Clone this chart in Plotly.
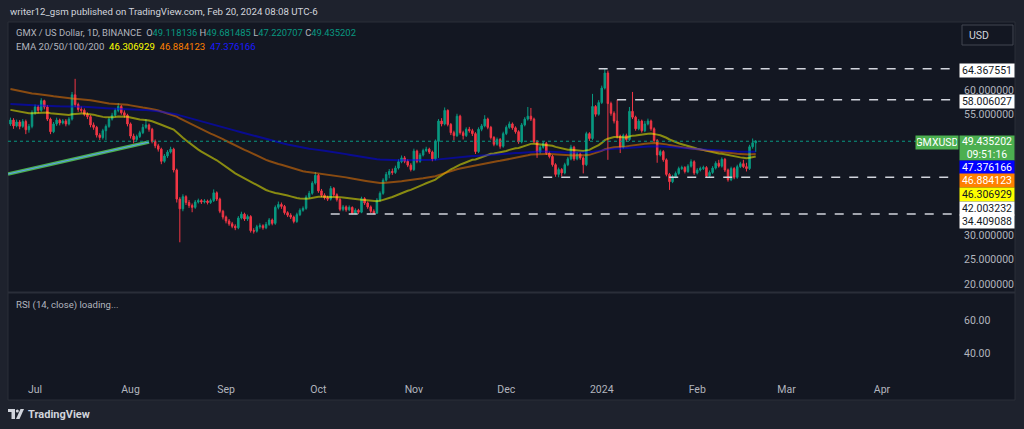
import pandas as pd
import plotly.graph_objects as go

# GMX / US Dollar, 1D, BINANCE - daily candles from 2023-06-23 to 2024-02-20
first_open = 53.0
closes = [
    53.8, 52.6, 53.4, 52.5, 53.5, 51.8, 52.5, 55.3, 56.5, 55.8,
    57.8, 56.5, 54.0, 51.4, 53.0, 53.8, 53.2, 53.6, 53.0, 54.0,
    59.0, 57.0, 56.0, 55.8, 55.0, 54.5, 52.8, 52.3, 50.7, 50.2,
    51.6, 52.5, 54.0, 54.8, 55.8, 56.6, 55.3, 54.8, 53.0, 50.5,
    49.8, 50.4, 51.2, 52.3, 52.8, 51.9, 49.4, 48.5, 47.8, 45.3,
    46.4, 47.2, 47.8, 43.5, 37.5, 35.5, 38.0, 36.8, 36.2, 35.8,
    36.9, 37.2, 36.9, 37.1, 36.8, 37.2, 38.8, 37.5, 35.0, 33.8,
    33.0, 32.4, 31.9, 31.6, 33.6, 34.4, 33.4, 33.9, 31.0, 30.9,
    31.8, 32.0, 31.6, 32.3, 33.2, 32.5, 35.8, 36.4, 36.0, 34.7,
    34.2, 33.8, 32.9, 34.3, 35.2, 35.6, 37.9, 38.7, 40.8, 42.4,
    39.2, 38.3, 37.8, 37.5, 39.7, 38.4, 37.4, 35.4, 35.9, 35.3,
    35.8, 34.5, 35.2, 34.8, 37.6, 36.7, 35.9, 35.0, 34.6, 37.3,
    38.7, 41.4, 42.6, 43.2, 43.0, 43.9, 45.2, 46.0, 45.3, 44.5,
    43.6, 47.4, 45.3, 46.6, 47.5, 47.8, 47.2, 45.8, 49.4, 53.6,
    53.0, 55.8, 52.9, 51.2, 50.6, 54.6, 51.2, 50.6, 51.9, 51.6,
    51.0, 47.3, 51.9, 52.6, 54.0, 52.3, 50.2, 48.8, 49.8, 48.4,
    51.0, 52.3, 53.0, 52.2, 51.4, 49.3, 52.8, 54.0, 54.6, 54.0,
    49.4, 47.2, 48.2, 49.0, 47.0, 46.3, 44.6, 42.6, 43.6, 42.9,
    44.6, 45.8, 48.2, 45.8, 46.8, 46.0, 44.6, 51.0, 50.0, 56.6,
    55.0, 57.4, 60.4, 63.5, 57.2, 55.2, 53.6, 50.5, 48.2, 50.6,
    49.8, 55.6, 54.4, 52.0, 53.6, 51.6, 53.0, 53.6, 52.0, 49.6,
    46.6, 47.3, 45.6, 42.6, 41.1, 42.1, 42.8, 43.8, 44.0, 43.2,
    44.3, 45.2, 42.9, 43.5, 43.8, 44.0, 42.3, 43.0, 43.9, 44.9,
    44.3, 45.7, 43.5, 41.5, 43.8, 42.0, 44.2, 44.8, 44.2, 43.8,
    48.3, 49.118136, 49.435202,
]
highs = [
    54.3, 54.2, 53.9, 53.8, 54.0, 53.9, 53.0, 55.8, 57.0, 56.9,
    58.3, 58.0, 56.9, 54.3, 53.4, 54.3, 54.1, 54.0, 54.0, 54.4,
    59.6, 62.3, 57.4, 56.6, 56.2, 55.4, 54.8, 53.3, 52.6, 51.1,
    52.0, 52.9, 54.4, 55.3, 56.2, 57.3, 56.9, 55.8, 55.1, 53.3,
    51.0, 50.8, 51.6, 53.0, 54.0, 53.1, 52.2, 49.8, 48.9, 48.1,
    46.8, 47.6, 48.3, 48.1, 43.8, 37.9, 38.5, 38.3, 37.3, 36.6,
    37.3, 37.6, 37.5, 37.5, 37.4, 37.6, 39.5, 39.1, 37.8, 35.3,
    34.1, 33.4, 32.8, 32.3, 34.0, 34.9, 34.7, 34.3, 34.2, 31.5,
    32.2, 32.5, 32.3, 32.8, 33.6, 33.5, 36.2, 37.0, 36.8, 36.3,
    35.0, 34.6, 34.1, 34.7, 35.6, 36.0, 38.3, 39.2, 41.2, 43.1,
    42.7, 39.6, 38.7, 38.2, 40.2, 40.0, 38.7, 37.7, 36.3, 36.2,
    36.2, 36.0, 35.6, 35.5, 38.0, 37.9, 37.0, 36.2, 35.4, 37.7,
    39.1, 41.8, 43.1, 43.7, 43.8, 44.4, 45.7, 46.5, 46.4, 45.7,
    44.9, 47.9, 47.7, 47.0, 47.9, 48.3, 48.1, 47.5, 49.8, 54.0,
    54.2, 56.4, 56.0, 53.2, 51.6, 55.1, 54.9, 51.6, 52.3, 52.4,
    52.0, 51.3, 52.3, 53.0, 54.8, 54.3, 52.6, 50.5, 50.2, 50.1,
    51.4, 52.7, 53.5, 53.3, 52.5, 51.7, 53.2, 54.4, 56.5, 56.3,
    54.3, 49.7, 48.6, 49.4, 49.3, 47.3, 46.6, 44.9, 44.0, 43.9,
    45.0, 46.2, 48.7, 48.5, 47.2, 47.1, 46.3, 51.4, 51.3, 59.2,
    56.9, 57.9, 60.9, 64.367551, 64.0, 57.6, 55.6, 58.0, 50.8, 51.0,
    51.0, 56.5, 59.6, 54.7, 54.0, 53.9, 53.6, 54.1, 53.9, 52.3,
    49.9, 47.7, 47.6, 45.9, 42.9, 42.5, 43.2, 44.2, 44.4, 44.3,
    44.7, 45.7, 45.5, 43.9, 44.2, 44.4, 44.3, 43.4, 44.3, 45.3,
    45.6, 46.1, 46.0, 43.8, 44.2, 44.1, 44.6, 45.2, 45.6, 45.0,
    48.7, 50.0, 49.681485,
]
lows = [
    52.6, 52.0, 52.3, 51.9, 52.2, 50.9, 51.2, 52.1, 54.9, 55.2,
    55.5, 56.0, 53.6, 50.9, 51.1, 52.6, 52.7, 52.9, 52.5, 52.7,
    53.7, 56.5, 55.5, 55.3, 54.6, 54.0, 52.3, 51.8, 50.2, 49.7,
    49.8, 49.7, 52.2, 53.7, 54.5, 55.4, 54.9, 54.3, 52.5, 50.0,
    49.0, 49.4, 50.1, 50.9, 52.0, 51.4, 49.0, 48.0, 47.3, 44.7,
    45.0, 46.0, 46.9, 43.0, 36.8, 28.6, 35.0, 36.3, 35.7, 34.8,
    35.5, 36.6, 36.5, 36.6, 36.4, 36.5, 36.9, 37.1, 34.6, 33.3,
    32.5, 32.0, 31.5, 31.1, 31.3, 33.3, 33.0, 33.0, 30.6, 30.4,
    30.6, 31.4, 31.2, 31.3, 32.0, 32.1, 32.2, 35.4, 35.5, 34.3,
    33.8, 33.4, 32.5, 32.6, 34.0, 34.9, 35.3, 37.6, 38.4, 40.5,
    38.8, 37.9, 37.4, 37.1, 37.2, 38.0, 37.0, 35.0, 35.0, 34.9,
    35.0, 34.4, 34.4, 34.4, 34.6, 36.3, 35.5, 34.6, 34.409088, 34.5,
    37.0, 38.4, 41.1, 41.8, 42.5, 42.7, 43.6, 44.9, 44.9, 44.1,
    43.2, 43.3, 44.9, 45.0, 46.3, 47.2, 46.8, 45.3, 45.5, 46.0,
    52.5, 52.7, 52.5, 50.7, 49.6, 50.3, 50.8, 49.8, 50.3, 51.2,
    50.5, 46.8, 47.0, 51.5, 52.3, 51.9, 49.8, 48.4, 48.5, 47.9,
    48.1, 50.7, 52.0, 51.8, 51.0, 48.9, 49.0, 52.5, 53.7, 53.6,
    49.0, 46.0, 46.9, 47.9, 46.6, 45.9, 44.2, 42.1, 42.0, 42.2,
    42.6, 44.3, 45.5, 45.4, 45.5, 45.6, 42.8, 44.3, 49.5, 49.7,
    54.5, 54.7, 57.1, 60.1, 45.6, 54.7, 53.1, 50.0, 47.0, 47.9,
    49.3, 49.5, 54.0, 51.6, 51.7, 51.2, 51.3, 52.7, 51.6, 49.2,
    45.0, 46.3, 45.2, 42.2, 39.4, 40.8, 41.8, 42.5, 43.5, 42.8,
    42.9, 44.0, 42.5, 42.6, 43.2, 43.5, 41.9, 42.0, 42.7, 43.6,
    44.0, 44.0, 43.1, 41.1, 41.2, 41.6, 41.7, 43.9, 43.9, 43.2,
    43.5, 47.9, 47.220707,
]
opens = [first_open] + closes[:-1]
dates = pd.date_range("2023-06-23", periods=len(closes), freq="D")

# EMA 20/50/100/200 study (values carried over from earlier history)
ema_names = ["EMA 50", "EMA 100", "EMA 200"]
ema_spans = [50, 100, 200]
ema_seeds = [55.9, 60.2, 57.1]
ema_colors = ["rgba(255,255,0,0.5)", "rgba(255,128,0,0.5)", "rgba(0,0,255,0.5)"]

# user drawings
trend_dates = ["2023-06-22 05:00", "2023-08-07"]
trend_prices = [42.68, 49.28]
level_prices = [64.367551, 58.006027, 42.003232, 34.409088]
level_starts = ["2023-12-31", "2024-01-06", "2023-12-13", "2023-10-05"]

month_ticks = ["2023-07-01", "2023-08-01", "2023-09-01", "2023-10-01", "2023-11-01",
               "2023-12-01", "2024-01-01", "2024-02-01", "2024-03-01", "2024-04-01"]
month_labels = ["Jul", "Aug", "Sep", "Oct", "Nov", "Dec", "2024", "Feb", "Mar", "Apr"]
price_ticks = [20, 25, 30, 55, 60]
rsi_ticks = [40, 60]

x_range = ["2023-06-22 05:00", "2024-04-24 17:00"]

W, H = 1024, 429
BG = "#131722"
FRAME = "#1e222d"
TXT = "#b2b5be"
FONT = "Roboto, Liberation Sans, sans-serif"


def px(x):
    return x / W


def py(y):
    return 1 - y / H


def ema(values, span, seed):
    alpha = 2 / (span + 1)
    out = [seed]
    for v in values[1:]:
        out.append(out[-1] + alpha * (v - out[-1]))
    return out


fig = go.Figure()

fig.add_trace(go.Candlestick(
    x=dates, open=opens, high=highs, low=lows, close=closes,
    increasing=dict(line=dict(color="#089981", width=1), fillcolor="#089981"),
    decreasing=dict(line=dict(color="#f23645", width=1), fillcolor="#f23645"),
    whiskerwidth=0, showlegend=False, xaxis="x", yaxis="y",
))

for name, span, seed, color in zip(ema_names, ema_spans, ema_seeds, ema_colors):
    fig.add_trace(go.Scatter(
        x=dates, y=ema(closes, span, seed), mode="lines", name=name,
        line=dict(color=color, width=2), showlegend=False, xaxis="x", yaxis="y",
    ))

# trend line drawing (green with blue core)
fig.add_trace(go.Scatter(x=trend_dates, y=trend_prices, mode="lines",
                         line=dict(color="#4caf50", width=3.5), showlegend=False))
fig.add_trace(go.Scatter(x=trend_dates, y=trend_prices, mode="lines",
                         line=dict(color="#5b9cf6", width=1), showlegend=False))

# horizontal levels
for price, start in zip(level_prices, level_starts):
    fig.add_trace(go.Scatter(x=[start, x_range[1]], y=[price, price], mode="lines",
                             line=dict(color="#d1d4dc", width=1.5, dash="dash"),
                             showlegend=False))

# empty RSI pane
fig.add_trace(go.Scatter(x=[dates[0]], y=[None], mode="lines", showlegend=False,
                         xaxis="x2", yaxis="y2"))

shapes = [
    dict(type="rect", xref="paper", yref="paper", x0=px(8), x1=px(1015), y0=py(400), y1=py(22),
         fillcolor=BG, line=dict(color="#2a2e39", width=1), layer="below"),
    dict(type="line", xref="paper", yref="paper", x0=px(8), x1=px(1015), y0=py(292.5), y1=py(292.5),
         line=dict(color="#2a2e39", width=2)),
    dict(type="line", xref="paper", yref="y", x0=px(8), x1=px(955), y0=closes[-1], y1=closes[-1],
         line=dict(color="#089981", width=1, dash="dot")),
    dict(type="rect", xref="paper", yref="paper", x0=px(962), x1=px(1013), y0=py(45), y1=py(25),
         line=dict(color="#434651", width=1)),
    # TradingView logo
    dict(type="rect", xref="paper", yref="paper", x0=px(8), x1=px(15), y0=py(412), y1=py(409),
         fillcolor="#d1d4dc", line_width=0),
    dict(type="rect", xref="paper", yref="paper", x0=px(11.5), x1=px(15), y0=py(419), y1=py(409),
         fillcolor="#d1d4dc", line_width=0),
    dict(type="circle", xref="paper", yref="paper", x0=px(15.8), x1=px(18.8), y0=py(412.5), y1=py(409.5),
         fillcolor="#d1d4dc", line_width=0),
    dict(type="path", xref="paper", yref="paper",
         path=f"M {px(20.5)} {py(409)} L {px(24)} {py(409)} L {px(19.5)} {py(419)} L {px(16)} {py(419)} Z",
         fillcolor="#d1d4dc", line_width=0),
]


def label(text, y, bg, fg, x=959, w=52, h=11):
    return dict(text=text, xref="paper", yref="paper", x=px(x), y=py(y), xanchor="left",
                yanchor="middle", showarrow=False, bgcolor=bg, width=w, height=h,
                borderpad=1, font=dict(family=FONT, size=10.5, color=fg))


annotations = [
    dict(text="writer12_gsm published on TradingView.com, Feb 20, 2024 08:08 UTC-6",
         xref="paper", yref="paper", x=px(8), y=py(11), xanchor="left", yanchor="middle",
         showarrow=False, font=dict(family=FONT, size=9.7, color="#d1d4dc")),
    dict(text="GMX / US Dollar, 1D, BINANCE&nbsp;&nbsp;O<span style='color:#089981'>49.118136</span>"
              "&nbsp;H<span style='color:#089981'>49.681485</span>"
              "&nbsp;L<span style='color:#089981'>47.220707</span>"
              "&nbsp;C<span style='color:#089981'>49.435202</span>",
         xref="paper", yref="paper", x=px(14), y=py(33), xanchor="left", yanchor="middle",
         showarrow=False, font=dict(family=FONT, size=9.4, color=TXT)),
    dict(text="EMA 20/50/100/200&nbsp;&nbsp;<span style='color:#ffff00'>46.306929</span>"
              "&nbsp;&nbsp;<span style='color:#ff8000'>46.884123</span>"
              "&nbsp;&nbsp;<span style='color:#1a1aff'>47.376166</span>",
         xref="paper", yref="paper", x=px(14), y=py(46), xanchor="left", yanchor="middle",
         showarrow=False, font=dict(family=FONT, size=9.6, color=TXT)),
    dict(text="RSI (14, close) loading...", xref="paper", yref="paper", x=px(14), y=py(305),
         xanchor="left", yanchor="middle", showarrow=False,
         font=dict(family=FONT, size=9.6, color=TXT)),
    dict(text="USD", xref="paper", yref="paper", x=px(967), y=py(35), xanchor="left",
         yanchor="middle", showarrow=False, font=dict(family=FONT, size=10.5, color="#d1d4dc")),
    dict(text="<b>TradingView</b>", xref="paper", yref="paper", x=px(26), y=py(414),
         xanchor="left", yanchor="middle", showarrow=False,
         font=dict(family=FONT, size=11, color="#d1d4dc")),
    label("64.367551", 70, "#ffffff", "#131722"),
    label("58.006027", 101.5, "#ffffff", "#131722"),
    label("GMXUSD", 143, "#4caf50", "#ffffff", x=915, w=40),
    label("49.435202<br>09:51:16", 148, "#4caf50", "#ffffff", h=22),
    label("47.376166", 167, "#0000ff", "#ffffff"),
    label("46.884123", 180.5, "#ff8000", "#ffffff"),
    label("46.306929", 194, "#ffff00", "#131722"),
    label("42.003232", 208, "#ffffff", "#131722"),
    label("34.409088", 221.5, "#ffffff", "#131722"),
]

axis_common = dict(showgrid=False, zeroline=False, showline=False, ticks="")

fig.update_layout(
    width=W, height=H, margin=dict(l=0, r=0, t=0, b=0),
    paper_bgcolor=FRAME, plot_bgcolor="rgba(0,0,0,0)",
    font=dict(family=FONT, color=TXT, size=11),
    showlegend=False, hovermode=False,
    shapes=shapes, annotations=annotations,
    xaxis=dict(domain=[px(8), px(955)], range=x_range, type="date", anchor="y",
               showticklabels=False, rangeslider=dict(visible=False), **axis_common),
    yaxis=dict(domain=[py(292), py(22)], range=[18.35, 74.02], side="right", anchor="x",
               tickvals=price_ticks, ticktext=[f"{v:.6f}" for v in price_ticks],
               ticklabelstandoff=8, tickfont=dict(size=10.5, color=TXT), **axis_common),
    xaxis2=dict(domain=[px(8), px(955)], range=x_range, type="date", anchor="y2",
                matches="x", tickvals=month_ticks, ticktext=month_labels,
                ticklabelstandoff=6, tickfont=dict(size=10.5, color=TXT), **axis_common),
    yaxis2=dict(domain=[py(375), py(293)], range=[26.7, 77], side="right", anchor="x2",
                tickvals=rsi_ticks, ticktext=[f"{v:.2f}" for v in rsi_ticks],
                ticklabelstandoff=8, tickfont=dict(size=10.5, color=TXT), **axis_common),
)

# page body margin would shift the 1024x429 figure inside the window
fig.write_html("out.html", config={"displayModeBar": False},
               post_script="document.body.style.margin='0';")
